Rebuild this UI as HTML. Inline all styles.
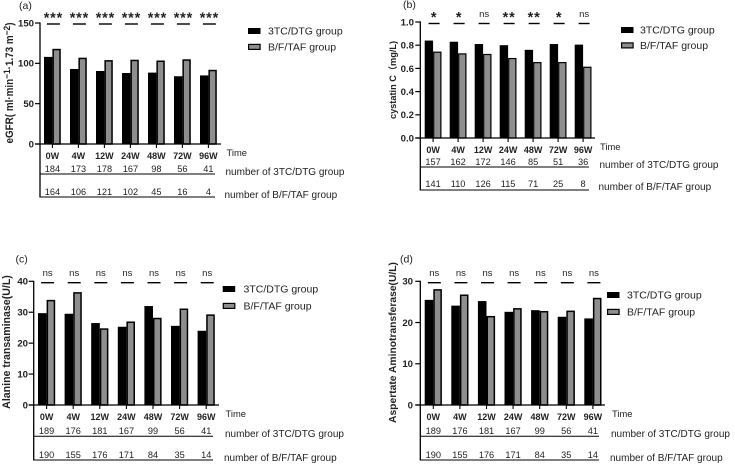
<!DOCTYPE html>
<html>
<head>
<meta charset="utf-8">
<style>
html,body{margin:0;padding:0;background:#fff;width:735px;height:464px;overflow:hidden}
svg{display:block;filter:blur(0.3px)}
text{font-family:"Liberation Sans","Noto Sans CJK SC",sans-serif;fill:#222}
</style>
</head>
<body>
<svg id="figure" width="735" height="464" viewBox="0 0 735 464" xmlns="http://www.w3.org/2000/svg"></svg>
<script>
const categories = ['0W','4W','12W','24W','48W','72W','96W'];
const seriesNames = ['3TC/DTG group','B/F/TAF group'];

const aTicks = [0,50,100,150];
const aBlack = [108,93,90.5,88,88.5,84,85];
const aGray = [118,107,104,104.5,103.5,105,92];
const aSig = ['***','***','***','***','***','***','***'];
const aCountBlack = [184,173,178,167,98,56,41];
const aCountGray = [164,106,121,102,45,16,4];

const bTicks = ['0.0','0.2','0.4','0.6','0.8','1.0'];
const bBlack = [0.84,0.83,0.81,0.80,0.76,0.81,0.805];
const bGray = [0.745,0.73,0.725,0.69,0.655,0.655,0.615];
const bSig = ['*','*','ns','**','**','*','ns'];
const bCountBlack = [157,162,172,146,85,51,36];
const bCountGray = [141,110,126,115,71,25,8];

const cTicks = [0,10,20,30,40];
const cBlack = [29.7,29.5,26.5,25.3,32,25.6,24];
const cGray = [34,36.5,24.8,27,28.2,31.2,29.3];
const cSig = ['ns','ns','ns','ns','ns','ns','ns'];
const cCountBlack = [189,176,181,167,99,56,41];
const cCountGray = [190,155,176,171,84,35,14];

const dTicks = [0,10,20,30];
const dBlack = [25.5,24.1,25.2,22.6,23,21.4,21];
const dGray = [28.1,26.8,21.6,23.5,22.8,22.9,26];
const dSig = ['ns','ns','ns','ns','ns','ns','ns'];
const dCountBlack = [189,176,181,167,99,56,41];
const dCountGray = [190,155,176,171,84,35,14];

const svg = document.getElementById('figure');
const NS = 'http://www.w3.org/2000/svg';

function make(tag, name, attrs, content) {
  const el = document.createElementNS(NS, tag);
  
  
  for (const k in attrs) el.setAttribute(k, attrs[k]);
  if (content !== undefined) el.textContent = content;
  svg.appendChild(el);
  return el;
}
function line(name, x1, y1, x2, y2, w) {
  return make('line', name, {x1:x1, y1:y1, x2:x2, y2:y2, stroke:'#000', 'stroke-width':w});
}
function label(name, x, y, str, size, extra) {
  return make('text', name, Object.assign({x:x, y:y, 'font-size':size}, extra || {}), str);
}

function drawPanel(p) {
  const yScale = v => p.y0 - (v - 0) / p.yMax * (p.y0 - p.yTop);
  const groupX = i => p.barStart + p.step * i;
  const centerX = i => groupX(i) + p.barW;
  const id = p.id;

  label('panel-label-' + id, p.tagX, p.tagY, '(' + id + ')', 10.5);

  // y axis title
  const t = make('text', 'y-axis-title-' + id, {
    transform: 'translate(' + p.titleX + ',' + p.titleY + ') rotate(-90)',
    'text-anchor': p.titleAnchor || 'middle', 'font-size': p.titleSize, 'font-weight': 'bold'
  });
  if (p.titleLen) {
    t.setAttribute('textLength', p.titleLen);
    t.setAttribute('lengthAdjust', 'spacingAndGlyphs');
  }
  p.title.forEach(part => {
    const s = document.createElementNS(NS, 'tspan');
    s.textContent = part[0];
    if (part[1]) s.setAttribute('dy', part[1]);
    if (part[2]) s.setAttribute('font-size', p.titleSize * 0.85);
    t.appendChild(s);
  });

  // bars
  p.black.forEach((v, i) => {
    make('rect', 'bar-3tc-dtg-' + id + '-' + categories[i], {
      x: groupX(i), y: yScale(v), width: p.barW, height: p.y0 - yScale(v), fill: '#000'
    });
  });
  p.gray.forEach((v, i) => {
    const sw = p.barStroke;
    make('rect', 'bar-bftaf-' + id + '-' + categories[i], {
      x: groupX(i) + p.barW + sw / 2, y: yScale(v) + sw / 2,
      width: p.barW - sw, height: p.y0 - yScale(v) - sw / 2,
      fill: '#8e8e8e', stroke: '#000', 'stroke-width': sw
    });
  });

  // axes
  line('y-axis-' + id, p.axisX, p.yTop - 0.6, p.axisX, p.tableY2 + 0.5, 1.3);
  line('x-axis-' + id, p.axisX - 5, p.y0, p.axisEnd, p.y0, 1.3);
  p.ticks.forEach(tk => {
    const v = parseFloat(tk);
    line('y-tick-' + id + '-' + tk, p.axisX - 5, yScale(v), p.axisX, yScale(v), 1.2);
    label('y-tick-label-' + id + '-' + tk, p.tickRight, yScale(v) + 3.4, String(tk), 9.6,
      {'text-anchor':'end', 'font-weight':'bold'});
  });

  // category ticks and labels
  categories.forEach((c, i) => {
    line('x-tick-' + id + '-' + c, centerX(i), p.y0, centerX(i), p.y0 + 4, 1.1);
    label('x-tick-label-' + id + '-' + c, centerX(i), p.catY, c, 9,
      {'text-anchor':'middle', 'font-weight':'bold'});
  });

  // significance
  p.sig.forEach((s, i) => {
    const lx = centerX(i) + 1;
    const half = p.sigHalf;
    line('significance-line-' + id + '-' + categories[i], lx - half, p.sigLineY, lx + half, p.sigLineY, 1.4);
    if (s === 'ns') {
      label('significance-ns-' + id + '-' + categories[i], lx, p.sigLineY - 6.5, s, 9.5, {'text-anchor':'middle'});
    } else {
      label('significance-stars-' + id + '-' + categories[i], lx, p.sigLineY - 1.5, s, 14.5,
        {'text-anchor':'middle', 'font-weight':'bold', 'letter-spacing':'0.8'});
    }
  });

  // counts table
  p.countBlack.forEach((n, i) => {
    label('count-3tc-dtg-' + id + '-' + categories[i], centerX(i), p.row1Y, String(n), 9.2, {'text-anchor':'middle'});
  });
  p.countGray.forEach((n, i) => {
    label('count-bftaf-' + id + '-' + categories[i], centerX(i), p.row2Y, String(n), 9.2, {'text-anchor':'middle'});
  });
  line('table-line-upper-' + id, p.axisX, p.tableY1, p.tableEnd, p.tableY1, 1);
  line('table-line-lower-' + id, p.axisX, p.tableY2, p.tableEnd, p.tableY2, 1);
  label('time-label-' + id, p.timeX, p.timeY, 'Time', 9.4);
  label('row-label-3tc-dtg-' + id, p.rowLabelX, p.rowLabel1Y, 'number of ' + seriesNames[0], 10);
  label('row-label-bftaf-' + id, p.rowLabelX - 1, p.rowLabel2Y, 'number of ' + seriesNames[1], 10);

  // legend
  make('rect', 'legend-swatch-3tc-dtg-' + id, {x:p.legX, y:p.legY1 - 6, width:12.5, height:6, fill:'#000'});
  make('rect', 'legend-swatch-bftaf-' + id, {x:p.legX + 0.6, y:p.legY2 - 5.6, width:11.5, height:5, fill:'#8e8e8e', stroke:'#000', 'stroke-width':1.2});
  label('legend-text-3tc-dtg-' + id, p.legTextX, p.legY1 + 0.5, seriesNames[0], 10.5);
  label('legend-text-bftaf-' + id, p.legTextX, p.legY2 + 0.5, seriesNames[1], 10.5);
}

drawPanel({
  id:'a', black:aBlack, gray:aGray, sig:aSig, countBlack:aCountBlack, countGray:aCountGray, ticks:aTicks, yMax:150,
  axisX:40, axisEnd:221, yTop:23, y0:144, barStart:44, step:26, barW:8.4, barStroke:1.5, tickRight:34,
  tagX:19, tagY:9, titleX:13, titleY:143.5, titleSize:10.6, titleAnchor:'start', titleLen:121,
  title:[['eGFR( ml·min'],['−1',-3,true],['·1.73 m',3],['−2',-3,true],[')',3]],
  catY:159, row1Y:172, row2Y:195, tableY1:174, tableY2:197, tableEnd:215,
  sigLineY:24, sigHalf:6.5,
  timeX:226.5, timeY:156, rowLabelX:225.5, rowLabel1Y:175, rowLabel2Y:198,
  legX:248, legY1:34, legY2:50, legTextX:268
});
drawPanel({
  id:'b', black:bBlack, gray:bGray, sig:bSig, countBlack:bCountBlack, countGray:bCountGray, ticks:bTicks, yMax:1,
  axisX:420.3, axisEnd:595, yTop:22, y0:138, barStart:424.7, step:25, barW:8.4, barStroke:1.2, tickRight:414,
  tagX:403, tagY:8, titleX:396, titleY:80, titleSize:9.2,
  title:[['cystatin C（mg/L)']],
  catY:153, row1Y:165, row2Y:187, tableY1:167, tableY2:190, tableEnd:589,
  sigLineY:23.5, sigHalf:5.5,
  timeX:600, timeY:150, rowLabelX:599.5, rowLabel1Y:168, rowLabel2Y:190,
  legX:621, legY1:33, legY2:48.5, legTextX:640
});
drawPanel({
  id:'c', black:cBlack, gray:cGray, sig:cSig, countBlack:cCountBlack, countGray:cCountGray, ticks:cTicks, yMax:40,
  axisX:33.7, axisEnd:219, yTop:281.3, y0:405, barStart:38, step:26.6, barW:8.6, barStroke:1.5, tickRight:28,
  tagX:15.5, tagY:262.7, titleX:10, titleY:342, titleSize:10.6,
  title:[['Alanine transaminase(U/L)']],
  catY:420, row1Y:434, row2Y:458, tableY1:436.3, tableY2:460, tableEnd:213,
  sigLineY:282.7, sigHalf:6.5,
  timeX:225.5, timeY:417, rowLabelX:225, rowLabel1Y:437, rowLabel2Y:461,
  legX:222.7, legY1:292, legY2:309, legTextX:243.5
});
drawPanel({
  id:'d', black:dBlack, gray:dGray, sig:dSig, countBlack:dCountBlack, countGray:dCountGray, ticks:dTicks, yMax:30,
  axisX:420.3, axisEnd:605, yTop:281.3, y0:405, barStart:424.7, step:26.6, barW:8.6, barStroke:1.5, tickRight:413,
  tagX:400, tagY:262.7, titleX:396, titleY:342.5, titleSize:10.3,
  title:[['Aspertate Aminotransferase(U/L)']],
  catY:420, row1Y:434, row2Y:458, tableY1:436.3, tableY2:460, tableEnd:599,
  sigLineY:282.7, sigHalf:6.5,
  timeX:612, timeY:417, rowLabelX:611, rowLabel1Y:437, rowLabel2Y:461,
  legX:607, legY1:298, legY2:315, legTextX:627
});
</script>
</body>
</html>
